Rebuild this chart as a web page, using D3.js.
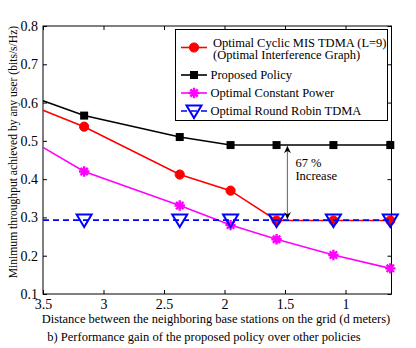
<!DOCTYPE html>
<html>
<head>
<script src="https://d3js.org/d3.v7.min.js"></script>
<style>
  body { margin: 0; background: #fff; }
  text { font-family: 'Liberation Serif', 'Times New Roman', serif; fill: #000; }
</style>
</head>
<body>
<div id="chart"></div>
<script>
  // distances (d meters); first value sits on the left axis, no marker there
  var distances = [3.5, 3.16, 2.37, 1.95, 1.57, 1.1, 0.63];
  var cyclicMIS = [0.58, 0.537, 0.412, 0.37, 0.292, 0.292, 0.292];
  var proposed = [0.605, 0.566, 0.51, 0.489, 0.489, 0.489, 0.489];
  var constantPower = [0.483, 0.42, 0.331, 0.28, 0.243, 0.202, 0.167];
  var roundRobin = [0.293, 0.293, 0.293, 0.293, 0.293, 0.293, 0.293];

  var xTicks = [3.5, 3, 2.5, 2, 1.5, 1];
  var yTicks = [0.1, 0.2, 0.3, 0.4, 0.5, 0.6, 0.7, 0.8];

  var series = [
    {name: ["Optimal Cyclic MIS TDMA (L=9)", "(Optimal Interference Graph)"], values: cyclicMIS, color: "#ff0000", marker: "circle"},
    {name: ["Proposed Policy"], values: proposed, color: "#000000", marker: "square"},
    {name: ["Optimal Constant Power"], values: constantPower, color: "#ff00ff", marker: "star"},
    {name: ["Optimal Round Robin TDMA"], values: roundRobin, color: "#0000ff", marker: "triangle", dash: "6,4"}
  ];

  var W = 416, H = 348;
  var pLeft = 43, pRight = 391.5, pTop = 26, pBottom = 294;

  var svg = d3.select("#chart").append("svg")
      .attr("width", W)
      .attr("height", H);

  var x = d3.scaleLinear().domain([3.5, 0.62]).range([pLeft, pRight]);
  var y = d3.scaleLinear().domain([0.1, 0.8]).range([pBottom, pTop]);

  // axes with inward ticks on all sides
  svg.append("g")
      .attr("transform", "translate(0," + pBottom + ")")
      .call(d3.axisBottom(x).tickValues(xTicks).tickSizeInner(-4).tickSizeOuter(0)
            .tickPadding(5).tickFormat(d3.format("")))
      .call(function(g) { g.select(".domain").remove(); });
  svg.append("g")
      .attr("transform", "translate(0," + pTop + ")")
      .call(d3.axisTop(x).tickValues(xTicks).tickSizeInner(-4).tickSizeOuter(0).tickFormat(""))
      .call(function(g) { g.select(".domain").remove(); });
  svg.append("g")
      .attr("transform", "translate(" + pLeft + ",0)")
      .call(d3.axisLeft(y).tickValues(yTicks).tickSizeInner(-4).tickSizeOuter(0)
            .tickPadding(5).tickFormat(d3.format(".1f")))
      .call(function(g) { g.select(".domain").remove(); });
  svg.append("g")
      .attr("transform", "translate(" + pRight + ",0)")
      .call(d3.axisRight(y).tickValues(yTicks).tickSizeInner(-4).tickSizeOuter(0).tickFormat(""))
      .call(function(g) { g.select(".domain").remove(); });

  svg.selectAll(".tick text")
      .style("font-family", "'Liberation Serif', serif")
      .style("font-size", "14px");
  svg.selectAll(".tick line").attr("stroke", "#000");

  svg.append("rect")
      .attr("x", pLeft).attr("y", pTop)
      .attr("width", pRight - pLeft).attr("height", pBottom - pTop)
      .attr("fill", "none").attr("stroke", "#000").attr("stroke-width", 1);

  function drawMarker(g, type, color) {
    if (type === "circle") {
      g.append("circle").attr("r", 4.6).attr("fill", color).attr("stroke", color);
    } else if (type === "square") {
      g.append("rect").attr("x", -4).attr("y", -4).attr("width", 8).attr("height", 8)
          .attr("fill", color);
    } else if (type === "star") {
      var p = "";
      for (var i = 0; i < 4; i++) {
        var a = i * Math.PI / 4, r = 5.2;
        p += "M" + (-r * Math.cos(a)) + "," + (-r * Math.sin(a)) + "L" + (r * Math.cos(a)) + "," + (r * Math.sin(a));
      }
      g.append("path").attr("d", p).attr("stroke", color).attr("stroke-width", 2.4);
    } else if (type === "triangle") {
      g.append("path").attr("d", "M-7.5,-5.5L7.5,-5.5L0,7Z")
          .attr("fill", "none").attr("stroke", color).attr("stroke-width", 2);
    }
  }

  var line = d3.line()
      .x(function(d) { return x(d[0]); })
      .y(function(d) { return y(d[1]); });

  series.forEach(function(s) {
    var pts = distances.map(function(d, i) { return [d, s.values[i]]; });
    svg.append("path")
        .attr("d", line(pts))
        .attr("fill", "none")
        .attr("stroke", s.color)
        .attr("stroke-width", 1.6)
        .attr("stroke-dasharray", s.dash || null);
    pts.slice(1).forEach(function(p) {
      var g = svg.append("g").attr("transform", "translate(" + x(p[0]) + "," + y(p[1]) + ")");
      drawMarker(g, s.marker, s.color);
    });
  });

  // 67 % increase arrow
  var arrowX = 1.48;
  svg.append("defs").append("marker")
      .attr("id", "ah").attr("viewBox", "0 0 10 10")
      .attr("refX", 10).attr("refY", 5)
      .attr("markerWidth", 7).attr("markerHeight", 7)
      .attr("markerUnits", "userSpaceOnUse")
      .attr("orient", "auto-start-reverse")
      .append("path").attr("d", "M0,0L10,5L0,10L3,5Z").attr("fill", "#000");
  svg.append("line")
      .attr("x1", x(arrowX)).attr("x2", x(arrowX))
      .attr("y1", y(0.489) + 1).attr("y2", y(0.293) - 1)
      .attr("stroke", "#777").attr("stroke-width", 1.2)
      .attr("marker-start", "url(#ah)").attr("marker-end", "url(#ah)");
  svg.append("text").attr("x", x(arrowX) + 8).attr("y", 167)
      .style("font-size", "12.5px").text("67 %");
  svg.append("text").attr("x", x(arrowX) + 8).attr("y", 180)
      .style("font-size", "12.5px").text("Increase");

  // legend
  var lg = svg.append("g");
  lg.append("rect")
      .attr("x", 175.5).attr("y", 29.5).attr("width", 212).attr("height", 91)
      .attr("fill", "#fff").attr("stroke", "#000").attr("stroke-width", 1);
  var legY = [47.5, 75, 93, 111];
  series.forEach(function(s, i) {
    lg.append("line")
        .attr("x1", 181).attr("x2", 207).attr("y1", legY[i]).attr("y2", legY[i])
        .attr("stroke", s.color).attr("stroke-width", 1.6)
        .attr("stroke-dasharray", s.dash || null);
    var g = lg.append("g").attr("transform", "translate(194," + legY[i] + ")");
    drawMarker(g, s.marker, s.color);
    if (s.name.length === 2) {
      lg.append("text").attr("x", 213).attr("y", 46.5).style("font-size", "12.5px").text(s.name[0]);
      lg.append("text").attr("x", 213).attr("y", 59).style("font-size", "12.5px").text(s.name[1]);
    } else {
      lg.append("text").attr("x", 210.5).attr("y", legY[i] + 4).style("font-size", "12.5px").text(s.name[0]);
    }
  });

  // axis titles and caption
  svg.append("text")
      .attr("transform", "translate(16.5,152) rotate(-90)")
      .attr("text-anchor", "middle")
      .style("font-size", "11.6px")
      .text("Minimum throughput achieved by any user (bits/s/Hz)");
  svg.append("text")
      .attr("x", 216).attr("y", 323)
      .attr("text-anchor", "middle")
      .style("font-size", "12.5px")
      .text("Distance between the neighboring base stations on the grid  (d meters)");
  svg.append("text")
      .attr("x", 204).attr("y", 341)
      .attr("text-anchor", "middle")
      .style("font-size", "12.5px")
      .text("b) Performance gain of the proposed policy over other policies");
</script>
</body>
</html>
